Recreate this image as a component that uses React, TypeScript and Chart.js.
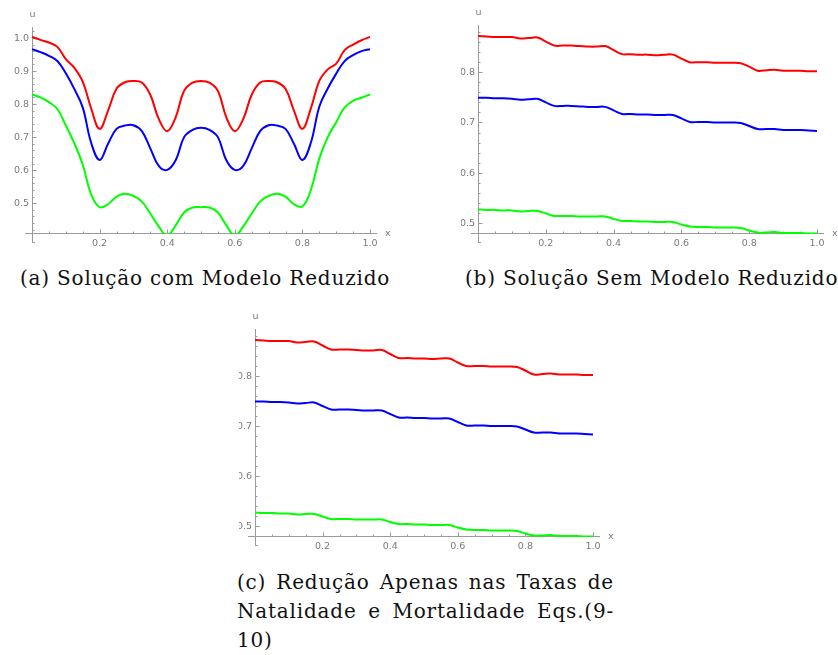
import React, { useEffect, useRef } from "react";
import { Chart, registerables } from "chart.js";

Chart.register(...registerables);

// ---------- data ----------
const xGrid = [0, 0.025, 0.05, 0.075, 0.1, 0.125, 0.15, 0.175, 0.2, 0.225, 0.25, 0.275, 0.3, 0.325, 0.35, 0.375, 0.4, 0.425, 0.45, 0.475, 0.5, 0.525, 0.55, 0.575, 0.6, 0.625, 0.65, 0.675, 0.7, 0.725, 0.75, 0.775, 0.8, 0.825, 0.85, 0.875, 0.9, 0.925, 0.95, 0.975, 1];

// (a) Solução com Modelo Reduzido
const redA = [1.003, 0.994, 0.986, 0.973, 0.936, 0.91, 0.868, 0.787, 0.725, 0.78, 0.846, 0.866, 0.87, 0.865, 0.828, 0.755, 0.718, 0.76, 0.84, 0.865, 0.87, 0.865, 0.84, 0.76, 0.718, 0.755, 0.828, 0.865, 0.87, 0.866, 0.846, 0.78, 0.725, 0.787, 0.87, 0.905, 0.922, 0.963, 0.98, 0.993, 1.003];
const blueA = [0.966, 0.957, 0.946, 0.93, 0.893, 0.846, 0.79, 0.683, 0.631, 0.68, 0.725, 0.735, 0.736, 0.718, 0.666, 0.613, 0.601, 0.63, 0.7, 0.722, 0.728, 0.722, 0.7, 0.63, 0.601, 0.613, 0.666, 0.718, 0.736, 0.735, 0.725, 0.68, 0.631, 0.683, 0.792, 0.847, 0.892, 0.93, 0.948, 0.96, 0.966];
const greenA = [0.829, 0.82, 0.806, 0.785, 0.735, 0.682, 0.617, 0.527, 0.488, 0.497, 0.52, 0.529, 0.522, 0.505, 0.469, 0.43, 0.402, 0.433, 0.472, 0.487, 0.488, 0.487, 0.472, 0.433, 0.402, 0.43, 0.469, 0.505, 0.522, 0.529, 0.52, 0.497, 0.49, 0.54, 0.635, 0.7, 0.745, 0.79, 0.81, 0.819, 0.829];

// (b) Solução Sem Modelo Reduzido / (c) Redução Apenas nas Taxas
const redB = [0.872, 0.871, 0.87, 0.87, 0.87, 0.867, 0.868, 0.869, 0.861, 0.853, 0.853, 0.853, 0.852, 0.851, 0.851, 0.852, 0.844, 0.836, 0.836, 0.835, 0.835, 0.834, 0.835, 0.835, 0.827, 0.82, 0.82, 0.82, 0.819, 0.819, 0.819, 0.818, 0.811, 0.803, 0.804, 0.805, 0.803, 0.803, 0.803, 0.802, 0.802];
const blueB = [0.749, 0.749, 0.748, 0.748, 0.747, 0.745, 0.746, 0.747, 0.74, 0.733, 0.733, 0.733, 0.732, 0.731, 0.731, 0.731, 0.724, 0.717, 0.717, 0.716, 0.716, 0.715, 0.715, 0.715, 0.708, 0.701, 0.701, 0.701, 0.7, 0.7, 0.7, 0.699, 0.693, 0.687, 0.687, 0.687, 0.685, 0.685, 0.685, 0.684, 0.683];
const greenB = [0.527, 0.526, 0.526, 0.525, 0.525, 0.523, 0.524, 0.524, 0.519, 0.514, 0.514, 0.514, 0.513, 0.513, 0.513, 0.513, 0.508, 0.504, 0.504, 0.503, 0.503, 0.502, 0.502, 0.502, 0.497, 0.493, 0.492, 0.492, 0.491, 0.491, 0.491, 0.49, 0.485, 0.481, 0.481, 0.482, 0.48, 0.48, 0.48, 0.479, 0.479];

const xTickValues = [0.2, 0.4, 0.6, 0.8, 1.0];
const xTickLabels = ["0.2", "0.4", "0.6", "0.8", "1.0"];
const yTickValuesA = [0.5, 0.6, 0.7, 0.8, 0.9, 1.0];
const yTickLabelsA = ["0.5", "0.6", "0.7", "0.8", "0.9", "1.0"];
const yTickValuesB = [0.5, 0.6, 0.7, 0.8];
const yTickLabelsB = ["0.5", "0.6", "0.7", "0.8"];

const captionA = "(a) Solução com Modelo Reduzido";
const captionB = "(b) Solução Sem Modelo Reduzido";
const captionC = ["(c) Redução Apenas nas Taxas de", "Natalidade e Mortalidade Eqs.(9-", "10)"];

const RED = "#ff0000";
const BLUE = "#0000ff";
const GREEN = "#00ff00";
const AXIS_COLOR = "#9a9a9a";
const TICK_COLOR = "#7a7a7a";
const TICK_FONT = "9.5px 'DejaVu Sans'";

// ---------- plugin: Mathematica-like axes ----------
const mAxesPlugin = {
  id: "mAxes",
  beforeDatasetsDraw(chart: any, _args: any, opts: any) {
    const { ctx, chartArea: a, scales } = chart;
    const xs = scales.x;
    const ys = scales.y;
    const axY = Math.round(a.bottom) + 0.5;
    const axX = Math.round(xs.getPixelForValue(0)) + 0.5;
    ctx.save();
    ctx.strokeStyle = AXIS_COLOR;
    ctx.lineWidth = 1;
    ctx.beginPath();
    ctx.moveTo(a.left - 7, axY);
    ctx.lineTo(a.right + 7, axY);
    ctx.moveTo(axX, a.top - 1);
    ctx.lineTo(axX, a.bottom + 10);
    ctx.moveTo(axX, a.bottom + 9.5);
    ctx.lineTo(axX + 2.5, a.bottom + 9.5);
    for (let k = 1; k <= 20; k++) {
      const v = k * 0.05;
      const px = Math.round(xs.getPixelForValue(v)) + 0.5;
      const len = k % 4 === 0 ? 4 : 2;
      ctx.moveTo(px, axY);
      ctx.lineTo(px, axY - len);
    }
    const kMin = Math.ceil(ys.min / 0.02 - 1e-6);
    const kMax = Math.floor(ys.max / 0.02 + 1e-6);
    for (let k = kMin; k <= kMax; k++) {
      const v = k * 0.02;
      const py = Math.round(ys.getPixelForValue(v)) + 0.5;
      if (py > a.bottom - 0.5) continue;
      const len = k % 5 === 0 ? 4 : 2;
      ctx.moveTo(axX, py);
      ctx.lineTo(axX + len, py);
    }
    ctx.stroke();

    ctx.fillStyle = TICK_COLOR;
    ctx.font = TICK_FONT;
    ctx.textAlign = "center";
    ctx.textBaseline = "middle";
    opts.xTicks.forEach((v: number, i: number) => {
      ctx.fillText(opts.xLabels[i], xs.getPixelForValue(v), a.bottom + 10.5);
    });
    ctx.textAlign = "right";
    opts.yTicks.forEach((v: number, i: number) => {
      ctx.fillText(opts.yLabels[i], axX - 3.5, ys.getPixelForValue(v) + 0.5);
    });
    ctx.textAlign = "left";
    ctx.fillText("x", a.right + 15, axY + 0.5);
    ctx.textAlign = "center";
    ctx.fillText("u", axX, a.top - 13);
    ctx.restore();
  },
};

type Series = { data: number[]; color: string };

function MChart(props: {
  left: number;
  top: number;
  width: number;
  height: number;
  pad: { left: number; right: number; top: number; bottom: number };
  yMin: number;
  yMax: number;
  series: Series[];
  yTicks: number[];
  yLabels: string[];
}) {
  const ref = useRef<HTMLCanvasElement | null>(null);
  useEffect(() => {
    if (!ref.current) return;
    const chart = new Chart(ref.current, {
      type: "line",
      data: {
        datasets: props.series.map((s) => ({
          data: xGrid.map((x, i) => ({ x, y: s.data[i] })),
          borderColor: s.color,
          borderWidth: 2,
          pointRadius: 0,
          fill: false,
          tension: 0.4,
          clip: 1,
        })),
      },
      options: {
        responsive: false,
        animation: false,
        devicePixelRatio: 1,
        layout: { padding: props.pad },
        events: [],
        scales: {
          x: { type: "linear", min: 0, max: 1, display: false },
          y: { type: "linear", min: props.yMin, max: props.yMax, display: false },
        },
        plugins: {
          legend: { display: false },
          tooltip: { enabled: false },
          mAxes: {
            xTicks: xTickValues,
            xLabels: xTickLabels,
            yTicks: props.yTicks,
            yLabels: props.yLabels,
          },
        } as any,
      },
      plugins: [mAxesPlugin as any],
    });
    return () => chart.destroy();
  }, []);
  return (
    <canvas
      ref={ref}
      width={props.width}
      height={props.height}
      style={{ position: "absolute", left: props.left, top: props.top, width: props.width, height: props.height }}
    />
  );
}

const captionStyle: React.CSSProperties = {
  position: "absolute",
  fontFamily: "'DejaVu Serif', serif",
  fontSize: 20,
  lineHeight: "24px",
  letterSpacing: "0.8px",
  color: "#111",
  whiteSpace: "nowrap",
};

export default function App() {
  return (
    <div style={{ position: "absolute", left: 0, top: 0, width: 838, height: 655, background: "#fff", overflow: "hidden" }}>
      <MChart
        left={0}
        top={0}
        width={420}
        height={255}
        pad={{ left: 32, right: 50, top: 28, bottom: 22 }}
        yMin={0.41}
        yMax={1.03}
        series={[
          { data: redA, color: RED },
          { data: blueA, color: BLUE },
          { data: greenA, color: GREEN },
        ]}
        yTicks={yTickValuesA}
        yLabels={yTickLabelsA}
      />
      <MChart
        left={461}
        top={0}
        width={377}
        height={255}
        pad={{ left: 17, right: 21, top: 26, bottom: 22 }}
        yMin={0.48}
        yMax={0.892}
        series={[
          { data: redB, color: RED },
          { data: blueB, color: BLUE },
          { data: greenB, color: GREEN },
        ]}
        yTicks={yTickValuesB}
        yLabels={yTickLabelsB}
      />
      <MChart
        left={239}
        top={300}
        width={399}
        height={250}
        pad={{ left: 16, right: 45, top: 30, bottom: 14 }}
        yMin={0.48}
        yMax={0.892}
        series={[
          { data: redB, color: RED },
          { data: blueB, color: BLUE },
          { data: greenB, color: GREEN },
        ]}
        yTicks={yTickValuesB}
        yLabels={yTickLabelsB}
      />
      <div style={{ ...captionStyle, left: 20, top: 266, width: 368, textAlign: "center" }}>{captionA}</div>
      <div style={{ ...captionStyle, left: 465, top: 266, width: 370, textAlign: "center" }}>{captionB}</div>
      <div style={{ ...captionStyle, whiteSpace: "normal", left: 237, top: 570, width: 377, textAlign: "justify", textAlignLast: "justify" }}>{captionC[0]}</div>
      <div style={{ ...captionStyle, whiteSpace: "normal", left: 237, top: 599, width: 377, textAlign: "justify", textAlignLast: "justify" }}>{captionC[1]}</div>
      <div style={{ ...captionStyle, left: 237, top: 628, width: 377, textAlign: "left" }}>{captionC[2]}</div>
    </div>
  );
}
